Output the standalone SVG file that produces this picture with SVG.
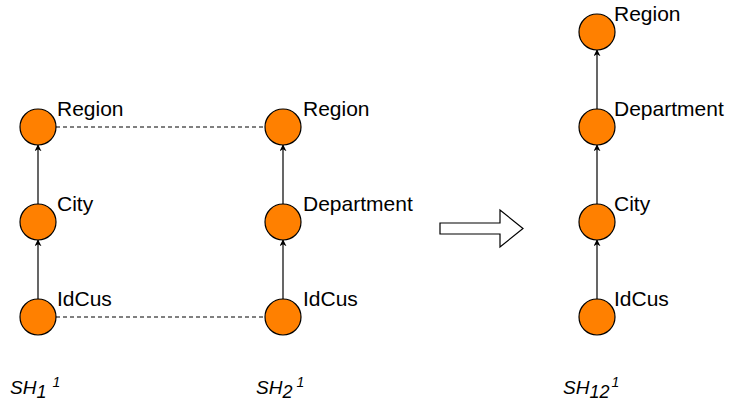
<svg xmlns="http://www.w3.org/2000/svg" width="729" height="409" viewBox="0 0 729 409">
  <defs>
    <marker id="tip" viewBox="0 0 10 10" refX="9" refY="5" markerWidth="7" markerHeight="7" markerUnits="userSpaceOnUse" orient="auto">
      <path d="M0,0 L10,5 L0,10 L3,5 Z" fill="#000"/>
    </marker>
    <style>
      .node { fill: #FF8000; stroke: #000; stroke-width: 1.2; }
      .lbl { font-family: "Liberation Sans", Arial, sans-serif; font-size: 21px; fill: #000; }
      .cap { font-family: "Liberation Sans", Arial, sans-serif; font-size: 19px; font-style: italic; fill: #000; }
      .sub { font-size: 18px; }
      .sup { font-size: 14px; }
      .edge { stroke: #000; stroke-width: 1.2; fill: none; marker-end: url(#tip); }
      .link { stroke: #000; stroke-width: 1; stroke-dasharray: 4 3; fill: none; }
    </style>
  </defs>
  <rect width="729" height="409" fill="#fff"/>

  <g id="connectors">
    <!-- hierarchy 1 -->
    <line class="edge" x1="38" y1="299" x2="38" y2="240"/>
    <line class="edge" x1="38" y1="204" x2="38" y2="145"/>
    <!-- hierarchy 2 -->
    <line class="edge" x1="283" y1="299" x2="283" y2="240"/>
    <line class="edge" x1="283" y1="204" x2="283" y2="145"/>
    <!-- merged hierarchy -->
    <line class="edge" x1="597" y1="299" x2="597" y2="240"/>
    <line class="edge" x1="597" y1="204" x2="597" y2="145"/>
    <line class="edge" x1="597" y1="109" x2="597" y2="50"/>
    <!-- correspondences -->
    <line class="link" x1="56" y1="127" x2="265" y2="127"/>
    <line class="link" x1="56" y1="317" x2="265" y2="317"/>
  </g>

  <g id="sh1-region"><circle class="node" cx="38" cy="127" r="18"/><text class="lbl" x="57" y="116">Region</text></g>
  <g id="sh1-city"><circle class="node" cx="38" cy="222" r="18"/><text class="lbl" x="57" y="211">City</text></g>
  <g id="sh1-idcus"><circle class="node" cx="38" cy="317" r="18"/><text class="lbl" x="57" y="306">IdCus</text></g>

  <g id="sh2-region"><circle class="node" cx="283" cy="127" r="18"/><text class="lbl" x="303" y="116">Region</text></g>
  <g id="sh2-department"><circle class="node" cx="283" cy="222" r="18"/><text class="lbl" x="303" y="211">Department</text></g>
  <g id="sh2-idcus"><circle class="node" cx="283" cy="317" r="18"/><text class="lbl" x="303" y="306">IdCus</text></g>

  <g id="sh12-region"><circle class="node" cx="597" cy="32" r="18"/><text class="lbl" x="614" y="21">Region</text></g>
  <g id="sh12-department"><circle class="node" cx="597" cy="127" r="18"/><text class="lbl" x="614" y="116">Department</text></g>
  <g id="sh12-city"><circle class="node" cx="597" cy="222" r="18"/><text class="lbl" x="614" y="211">City</text></g>
  <g id="sh12-idcus"><circle class="node" cx="597" cy="317" r="18"/><text class="lbl" x="614" y="306">IdCus</text></g>

  <g id="merge-arrow">
    <path d="M440,223 L500,223 L500,210 L523,228.5 L500,247 L500,234 L440,234 Z" fill="#fff" stroke="#000" stroke-width="1.2"/>
  </g>

  <g id="captions">
    <text class="cap" x="10" y="394">SH<tspan class="sub" dy="4">1</tspan><tspan class="sup" dx="6" dy="-11">1</tspan></text>
    <text class="cap" x="256" y="394">SH<tspan class="sub" dy="4">2</tspan><tspan class="sup" dx="4" dy="-11">1</tspan></text>
    <text class="cap" x="563" y="394">SH<tspan class="sub" dy="4">12</tspan><tspan class="sup" dx="2" dy="-11">1</tspan></text>
  </g>
</svg>
